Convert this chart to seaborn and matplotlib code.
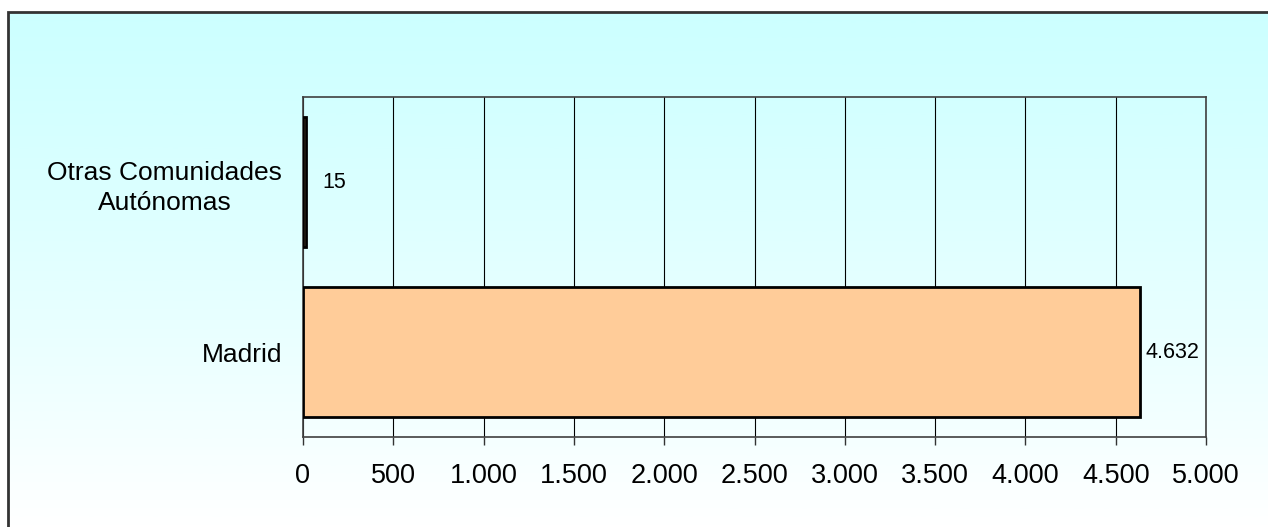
import numpy as np
import pandas as pd
import matplotlib
matplotlib.use("Agg")
import matplotlib.pyplot as plt
from matplotlib.colors import LinearSegmentedColormap
from matplotlib.patches import Rectangle
import seaborn as sns

categories = ["Otras Comunidades\nAutónomas", "Madrid"]
values = [15, 4632]
value_labels = ["15", "4.632"]
xticks = [0, 500, 1000, 1500, 2000, 2500, 3000, 3500, 4000, 4500, 5000]
xtick_labels = ["0", "500", "1.000", "1.500", "2.000", "2.500", "3.000", "3.500", "4.000", "4.500", "5.000"]

sns.set_theme(style="white")
plt.rcParams["font.family"] = ["Liberation Sans", "DejaVu Sans"]
plt.rcParams["text.color"] = "black"
plt.rcParams["xtick.color"] = "black"
plt.rcParams["ytick.color"] = "black"

fig = plt.figure(figsize=(12.68, 5.27), dpi=100)

# background gradient
bg = fig.add_axes([0, 0, 1, 1], zorder=-10)
grad = np.linspace(0, 1, 512).reshape(-1, 1) ** 1.2
cmap = LinearSegmentedColormap.from_list("bg", ["#CCFFFF", "#FFFFFF"])
bg.imshow(grad, aspect="auto", cmap=cmap, extent=[0, 1, 0, 1], origin="upper")
bg.set_xlim(0, 1)
bg.set_ylim(0, 1)
bg.axis("off")
bg.add_patch(Rectangle((0, 1 - 12 / 527), 1, 12 / 527, color="white", transform=bg.transAxes))
bg.add_patch(Rectangle((0, 0), 8 / 1268, 1, color="white", transform=bg.transAxes))
bg.add_patch(Rectangle((8 / 1268, -0.05), 1.2, 1 - 12 / 527 + 0.05, fill=False,
                       edgecolor="#333333", linewidth=2, transform=bg.transAxes))

ax = fig.add_axes([303 / 1268, 1 - 437 / 527, (1206 - 303) / 1268, (437 - 97) / 527])
ax.patch.set_alpha(0)

df = pd.DataFrame({"cat": categories, "val": values})
sns.barplot(data=df, y="cat", x="val", orient="h", order=categories,
            color="#FFCC99", edgecolor="black", linewidth=2, width=0.77,
            saturation=1, ax=ax, zorder=3)

ax.set_xlim(0, 5000)
ax.set_xticks(xticks)
ax.set_xticklabels(xtick_labels, fontsize=19.5)
ax.set_xlabel("")
ax.set_ylabel("")
ax.tick_params(axis="x", bottom=True, length=6, width=1, color="#333333", pad=13)
ax.tick_params(axis="y", left=False, pad=9, labelsize=19)
for lbl in ax.get_yticklabels():
    lbl.set_multialignment("center")
    lbl.set_linespacing(1.35)
ax.xaxis.grid(True, color="black", linewidth=0.8)
ax.set_axisbelow(True)
for s in ["top", "right", "bottom", "left"]:
    ax.spines[s].set_visible(True)
    ax.spines[s].set_color("#404040")
    ax.spines[s].set_linewidth(1.2)

pads = [12, 4]
for bar, lab, p in zip(ax.patches, value_labels, pads):
    ax.annotate(lab, (bar.get_x() + bar.get_width(), bar.get_y() + bar.get_height() / 2),
                xytext=(p, 0), textcoords="offset points", va="center", ha="left",
                fontsize=15.5, color="black")

fig.savefig("out.png", dpi=100)
